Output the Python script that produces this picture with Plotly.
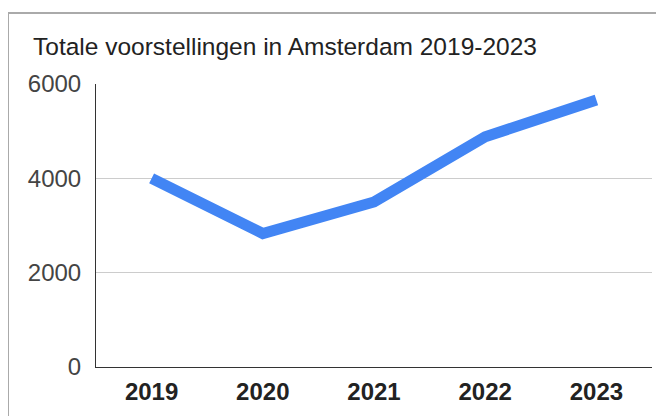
import plotly.graph_objects as go

years = ["2019", "2020", "2021", "2022", "2023"]
voorstellingen = [4000, 2830, 3500, 4880, 5660]
y_ticks = [0, 2000, 4000, 6000]
title_text = "Totale voorstellingen in Amsterdam 2019-2023"

# page has an 8px body margin, so the figure is laid out in shifted coordinates
OFF = 8
W, H = 664 - OFF, 416 - OFF
L = 96 - OFF
T = 84 - OFF
R = W - (652 - OFF)
B = H - (367 - OFF)
pw, ph = W - L - R, H - T - B

def px_x(x):
    return (x - OFF - L) / pw

def px_y(y):
    return (H - B - (y - OFF)) / ph

fig = go.Figure()
fig.add_trace(go.Scatter(
    x=years, y=voorstellingen, mode="lines",
    line=dict(color="#4285F4", width=11),
    hoverinfo="skip", showlegend=False,
))

fig.update_layout(
    width=W, height=H,
    margin=dict(l=L, r=R, t=T, b=B),
    paper_bgcolor="white", plot_bgcolor="white",
    font=dict(family="Liberation Sans, Arial, sans-serif", size=24, color="#444"),
    title=dict(text=title_text, x=(33 - OFF) / W, xref="container", xanchor="left",
               y=1 - (46 - OFF) / H, yref="container", yanchor="middle",
               font=dict(size=24.5, color="#222")),
    xaxis=dict(type="category", range=[-0.5, 4.5], showgrid=False,
               showline=True, linecolor="#333", linewidth=1,
               tickfont=dict(size=24, color="#222", family="Liberation Sans, Arial, sans-serif", weight="bold"),
               ticks="", ticklabelstandoff=3, zeroline=False, fixedrange=True),
    yaxis=dict(range=[0, 6000], tickvals=y_ticks, showgrid=True, gridcolor="#cccccc",
               gridwidth=1, showline=True, linecolor="#333", linewidth=1,
               tickfont=dict(size=24, color="#444"), ticks="", ticklabelstandoff=9,
               zeroline=False, fixedrange=True),
    shapes=[
        dict(type="line", xref="paper", yref="paper", x0=px_x(8), x1=px_x(680),
             y0=px_y(13), y1=px_y(13), line=dict(color="#aaaaaa", width=2)),
        dict(type="line", xref="paper", yref="paper", x0=px_x(8), x1=px_x(8),
             y0=px_y(13), y1=px_y(430), line=dict(color="#aaaaaa", width=2)),
    ],
)

fig.write_html("out.html")
